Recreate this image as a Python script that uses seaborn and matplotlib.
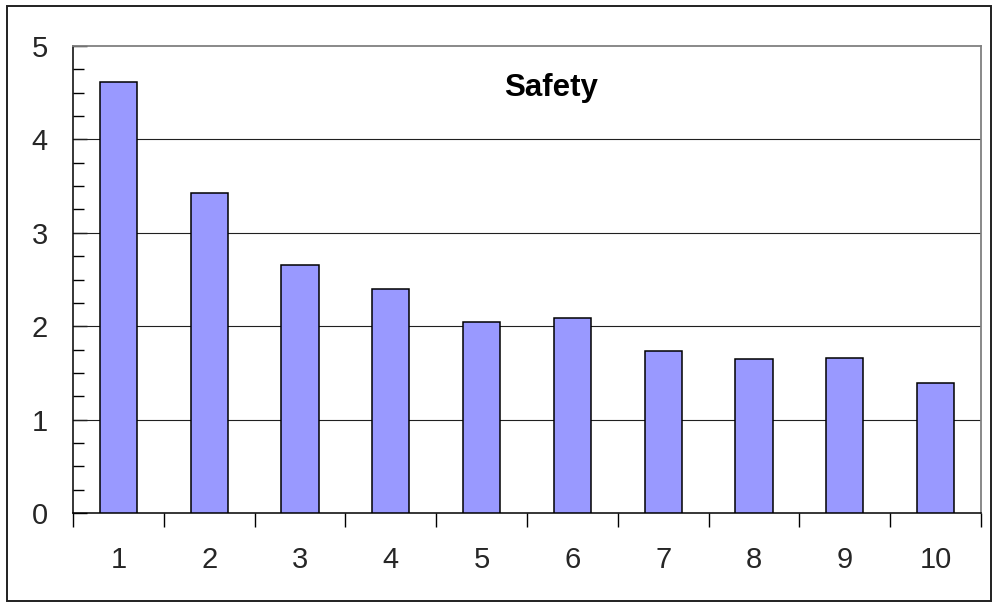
import matplotlib
matplotlib.use("Agg")
import matplotlib.pyplot as plt
from matplotlib.patches import Rectangle
from matplotlib.ticker import MultipleLocator, FixedLocator
import seaborn as sns
import pandas as pd

# Chart data
categories = ["1", "2", "3", "4", "5", "6", "7", "8", "9", "10"]
scores = [4.61, 3.43, 2.66, 2.40, 2.04, 2.09, 1.73, 1.65, 1.66, 1.39]
y_ticks = [0, 1, 2, 3, 4, 5]
title_text = "Safety"

sns.set_style("white")
plt.rcParams["font.family"] = ["Liberation Sans", "DejaVu Sans"]

df = pd.DataFrame({"category": categories, "score": scores})

fig = plt.figure(figsize=(9.92, 6.03), dpi=100)
ax = fig.add_axes([73 / 992, 1 - 513 / 603, 908 / 992, 467 / 603])

sns.barplot(data=df, x="category", y="score", order=categories, ax=ax,
            color="#9999FF", saturation=1, width=0.41,
            edgecolor="black", linewidth=1.1, zorder=3)

ax.set_xlim(-0.5, len(categories) - 0.5)
ax.set_ylim(0, 5)
ax.set_xlabel("")
ax.set_ylabel("")

# horizontal gridlines
for v in y_ticks[1:-1]:
    ax.axhline(v, color="#202020", lw=0.8, zorder=1)

# y axis: inward ticks, minor every 0.25
ax.yaxis.set_major_locator(FixedLocator(y_ticks))
ax.yaxis.set_minor_locator(MultipleLocator(0.25))
ax.tick_params(axis="y", which="major", direction="in", length=10, width=1,
               color="black", labelsize=21, pad=18, left=True)
ax.tick_params(axis="y", which="minor", direction="in", length=8, width=1,
               color="black", left=True)

# x axis: labels at category centres, tick marks on category boundaries
ax.xaxis.set_major_locator(FixedLocator(range(len(categories))))
ax.set_xticklabels(categories)
ax.xaxis.set_minor_locator(FixedLocator([i - 0.5 for i in range(len(categories) + 1)]))
ax.tick_params(axis="x", which="major", length=0, labelsize=21, pad=24, bottom=True)
ax.tick_params(axis="x", which="minor", direction="out", length=10, width=1,
               color="black", bottom=True)

for side in ["left", "bottom"]:
    ax.spines[side].set_color("black")
    ax.spines[side].set_linewidth(1.1)
for side in ["top", "right"]:
    ax.spines[side].set_visible(True)
    ax.spines[side].set_color("#808080")
    ax.spines[side].set_linewidth(1.3)

ax.text(0.526, 0.892, title_text, transform=ax.transAxes, ha="center",
        va="baseline", fontsize=22.5, fontweight="bold", color="black")

# outer chart frame
fig.patches.append(Rectangle((7 / 992, 1 - 601 / 603), 984 / 992, 595 / 603,
                             transform=fig.transFigure, fill=False,
                             edgecolor="#202020", linewidth=1.4))

fig.savefig("out.png", dpi=100, facecolor="white")
